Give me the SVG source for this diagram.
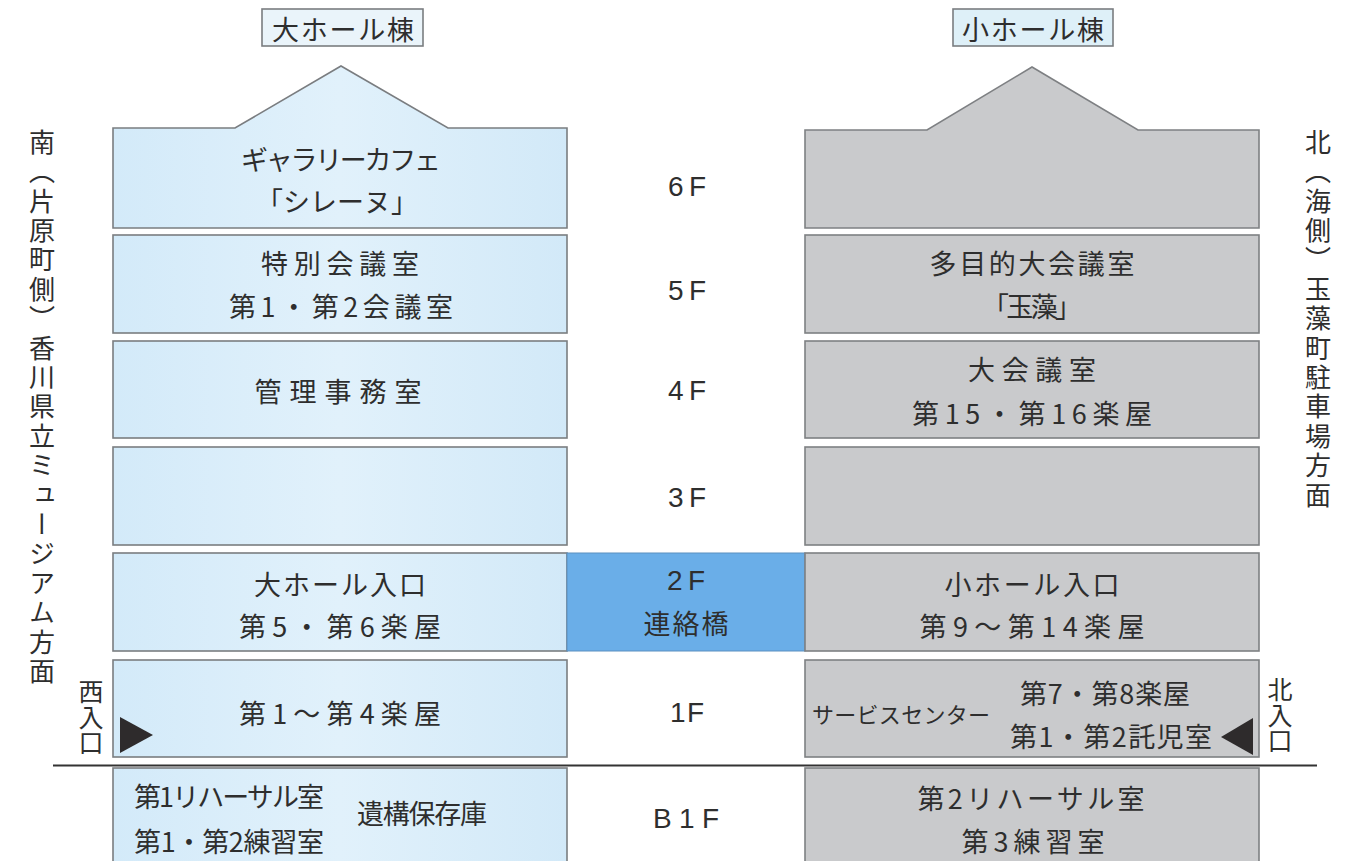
<svg xmlns="http://www.w3.org/2000/svg" width="1361" height="861" viewBox="0 0 1361 861">
<defs>
<linearGradient id="blueFill" x1="0" y1="0" x2="1" y2="0">
<stop offset="0" stop-color="#d3eaf9"/>
<stop offset="0.5" stop-color="#e1f1fb"/>
<stop offset="1" stop-color="#d2e9f8"/>
</linearGradient>
<style>
.lb{fill:url(#blueFill);stroke:#7a7d80;stroke-width:1.6}
.rb{fill:#c9cacc;stroke:#7e8083;stroke-width:1.6}
.t{font-family:"Noto Sans CJK JP","Noto Sans",sans-serif;font-size:27px;fill:#2e2e2e;text-anchor:middle;dominant-baseline:central}
.fl{font-family:"Liberation Sans","Noto Sans CJK JP",sans-serif;font-size:28px;fill:#2e2e2e;text-anchor:middle;dominant-baseline:central}
.v{font-family:"Noto Sans CJK JP",sans-serif;font-size:26px;fill:#2e2e2e;writing-mode:vertical-rl;letter-spacing:3.4px}
.ve{font-family:"Noto Sans CJK JP",sans-serif;font-size:25px;fill:#2e2e2e;writing-mode:vertical-rl;letter-spacing:0.5px}
.tag{stroke:#7a7d80;stroke-width:1.6}
</style>
</defs>
<rect width="1361" height="861" fill="#ffffff"/>

<g id="label-large-hall">
<rect class="tag" x="262" y="9" width="161" height="37" fill="#eaf4fa"/>
<text class="t" x="343" y="28" textLength="142" lengthAdjust="spacing">大ホール棟</text>
</g>
<g id="label-small-hall">
<rect class="tag" x="953" y="9" width="160" height="37" fill="#def0f8"/>
<text class="t" x="1033" y="28" textLength="142" lengthAdjust="spacing">小ホール棟</text>
</g>

<g id="side-south">
<text class="v" x="42" y="129">南（片原町側）香川県立ミュージアム方面</text>
</g>
<g id="side-north">
<text class="v" x="1318" y="129">北（海側）玉藻町駐車場方面</text>
</g>

<g id="L6F">
<path class="lb" d="M113,128 L235,128 L341,66 L448,128 L567,128 L567,228 L113,228 Z"/>
<text class="t" x="341" y="158" textLength="200" lengthAdjust="spacing">ギャラリーカフェ</text>
<text class="t" x="337" y="200" textLength="162" lengthAdjust="spacing">「シレーヌ」</text>
</g>
<g id="L5F">
<rect class="lb" x="113" y="235" width="454" height="98"/>
<text class="t" x="340" y="262" textLength="158" lengthAdjust="spacing">特別会議室</text>
<text class="t" x="341" y="305" textLength="224" lengthAdjust="spacing">第1・第2会議室</text>
</g>
<g id="L4F">
<rect class="lb" x="113" y="341" width="454" height="97"/>
<text class="t" x="338" y="390" textLength="167" lengthAdjust="spacing">管理事務室</text>
</g>
<g id="L3F">
<rect class="lb" x="113" y="447" width="454" height="98"/>
</g>
<g id="L2F">
<rect class="lb" x="113" y="553" width="454" height="98"/>
<text class="t" x="340" y="583" textLength="172" lengthAdjust="spacing">大ホール入口</text>
<text class="t" x="340" y="625" textLength="202" lengthAdjust="spacing">第5・第6楽屋</text>
</g>
<g id="L1F">
<rect class="lb" x="113" y="660" width="454" height="97"/>
<text class="t" x="340" y="712" textLength="202" lengthAdjust="spacing">第1～第4楽屋</text>
<polygon points="120,717 120,753 153,735" fill="#2e2b2c"/>
</g>
<g id="LB1F">
<rect class="lb" x="113" y="768" width="454" height="110"/>
<text class="t" x="229" y="795" textLength="190" lengthAdjust="spacing">第1リハーサル室</text>
<text class="t" x="229" y="840" textLength="190" lengthAdjust="spacing">第1・第2練習室</text>
<text class="t" x="422" y="812" textLength="130" lengthAdjust="spacing">遺構保存庫</text>
</g>

<g id="bridge">
<rect x="567" y="553" width="238" height="98" fill="#6aaee8" stroke="#5a8fc0" stroke-width="1"/>
<text class="fl" x="686" y="580" textLength="38" lengthAdjust="spacing">2F</text>
<text class="t" x="686" y="622" textLength="85" lengthAdjust="spacing">連絡橋</text>
</g>

<g id="floor-labels">
<text class="fl" x="687" y="186" textLength="38" lengthAdjust="spacing">6F</text>
<text class="fl" x="687" y="290" textLength="38" lengthAdjust="spacing">5F</text>
<text class="fl" x="687" y="390" textLength="38" lengthAdjust="spacing">4F</text>
<text class="fl" x="687" y="497" textLength="38" lengthAdjust="spacing">3F</text>
<text class="fl" x="687" y="712" textLength="34" lengthAdjust="spacing">1F</text>
<text class="fl" x="686" y="818" textLength="66" lengthAdjust="spacing">B1F</text>
</g>

<g id="R6F">
<path class="rb" d="M805,130 L927,130 L1032,67 L1138,130 L1259,130 L1259,228 L805,228 Z"/>
</g>
<g id="R5F">
<rect class="rb" x="805" y="235" width="454" height="98"/>
<text class="t" x="1032" y="262" textLength="205" lengthAdjust="spacing">多目的大会議室</text>
<text class="t" x="1032" y="305" textLength="100" lengthAdjust="spacing">「玉藻」</text>
</g>
<g id="R4F">
<rect class="rb" x="805" y="341" width="454" height="97"/>
<text class="t" x="1032" y="368" textLength="128" lengthAdjust="spacing">大会議室</text>
<text class="t" x="1032" y="412" textLength="240" lengthAdjust="spacing">第15・第16楽屋</text>
</g>
<g id="R3F">
<rect class="rb" x="805" y="447" width="454" height="98"/>
</g>
<g id="R2F">
<rect class="rb" x="805" y="553" width="454" height="98"/>
<text class="t" x="1032" y="583" textLength="175" lengthAdjust="spacing">小ホール入口</text>
<text class="t" x="1032" y="625" textLength="225" lengthAdjust="spacing">第9～第14楽屋</text>
</g>
<g id="R1F">
<rect class="rb" x="805" y="660" width="454" height="97"/>
<text class="t" x="901" y="713" style="font-size:22px" textLength="178" lengthAdjust="spacing">サービスセンター</text>
<text class="t" x="1105" y="692" textLength="170" lengthAdjust="spacing">第7・第8楽屋</text>
<text class="t" x="1111" y="735" textLength="202" lengthAdjust="spacing">第1・第2託児室</text>
<polygon points="1253,718 1253,755 1221,737" fill="#2e2b2c"/>
</g>
<g id="RB1F">
<rect class="rb" x="805" y="768" width="454" height="110"/>
<text class="t" x="1031" y="797" textLength="227" lengthAdjust="spacing">第2リハーサル室</text>
<text class="t" x="1033" y="840" textLength="143" lengthAdjust="spacing">第3練習室</text>
</g>

<g id="entrances">
<text class="ve" x="91" y="679">西入口</text>
<text class="ve" x="1280" y="677">北入口</text>
</g>

<g id="connectors">
<line x1="53" y1="765.5" x2="1317" y2="765.5" stroke="#333" stroke-width="2"/>
</g>
</svg>
